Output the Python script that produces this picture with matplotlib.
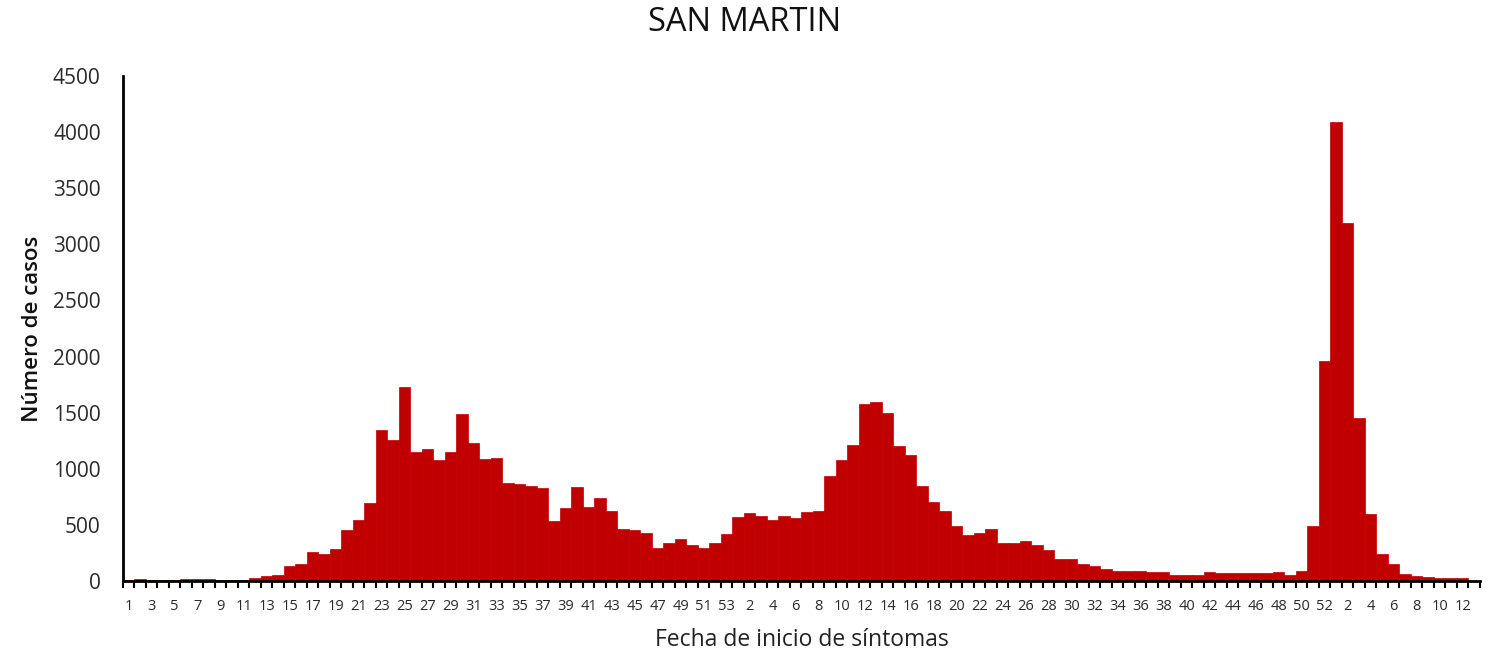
import numpy as np
import matplotlib.pyplot as plt

# casos por semana epidemiologica
casos_2020 = [5, 18, 5, 5, 5, 15, 15, 15, 5, 10, 12, 28, 40, 55, 133, 148, 261, 237, 282, 454,
              543, 692, 1343, 1254, 1732, 1153, 1174, 1075, 1153, 1485, 1233, 1084, 1093, 876, 864, 843, 832, 531, 647, 840,
              662, 739, 623, 463, 451, 430, 291, 338, 371, 318, 294, 338, 421]
casos_2021 = [570, 602, 582, 546, 582, 558, 614, 626, 932, 1075, 1216, 1581, 1593, 1501, 1207, 1127, 843, 706, 626, 489,
              409, 430, 466, 341, 341, 353, 318, 273, 193, 193, 148, 133, 104, 89, 89, 89, 80, 80, 56, 56,
              56, 80, 68, 68, 68, 68, 68, 80, 53, 89, 490, 1958]
casos_2022 = [4088, 3192, 1448, 593, 240, 148, 62, 45, 33, 24, 24, 24, 0]

semanas = list(range(1, 54)) + list(range(1, 53)) + list(range(1, 14))
casos = casos_2020 + casos_2021 + casos_2022

plt.rcParams['font.family'] = ['Open Sans', 'DejaVu Sans']

fig = plt.figure(figsize=(14.96, 6.49), dpi=100)
ax = fig.add_axes([0.0822, 0.1048, 0.9071, 0.7781])

x = np.arange(len(casos))
ax.bar(x, casos, width=1.0, color='#C00000', edgecolor='#C00000', linewidth=0.5)

ax.set_xlim(-0.5, len(casos) - 0.5)
ax.set_ylim(0, 4500)
ax.set_yticks(range(0, 4501, 500))
ax.tick_params(axis='y', length=0, pad=16, labelsize=15, colors='#2a2a2a')

# etiquetas cada dos semanas
ax.set_xticks(x[::2])
ax.set_xticklabels([str(semanas[i]) for i in x[::2]])
ax.set_xticks(np.arange(len(casos) + 1) - 0.5, minor=True)
ax.tick_params(axis='x', which='major', length=0, pad=13, labelsize=10.5, colors='#2a2a2a')
ax.tick_params(axis='x', which='minor', length=5, width=1.5, direction='out', color='black')

for s in ['top', 'right']:
    ax.spines[s].set_visible(False)
for s in ['left', 'bottom']:
    ax.spines[s].set_linewidth(2)
    ax.spines[s].set_color('black')

fig.suptitle('SAN MARTIN', fontsize=23.5, x=0.498, y=0.99, color='#111111')
ax.set_xlabel('Fecha de inicio de síntomas', fontsize=16.5, labelpad=10, color='#222222')
ax.set_ylabel('Número de casos', fontsize=16, fontweight='semibold', labelpad=7, color='#111111')

plt.savefig('out.png', dpi=100)
